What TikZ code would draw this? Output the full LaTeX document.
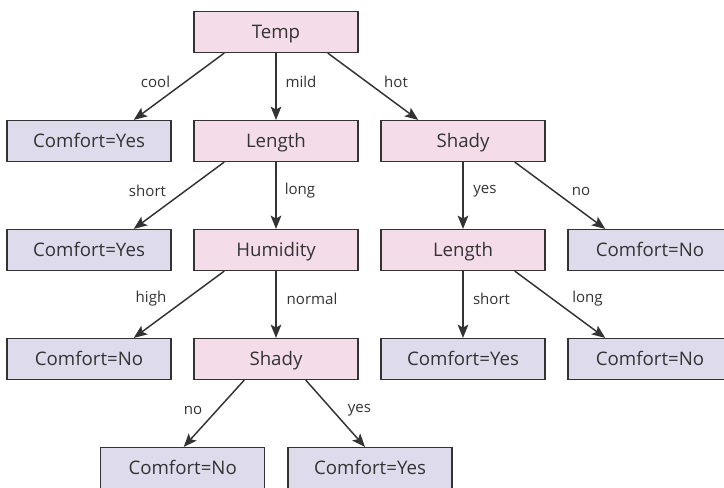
\documentclass[tikz,border=0pt]{standalone}
\usepackage{fontspec}
\setmainfont{Open Sans}
\usetikzlibrary{arrows.meta,calc}
\definecolor{ink}{HTML}{333333}
\definecolor{testfill}{HTML}{F4DDE8}
\definecolor{leaffill}{HTML}{DEDCEC}
\begin{document}
\begin{tikzpicture}[x=0.75pt,y=-0.75pt,
  box/.style={draw=ink,line width=1.1pt,minimum width=123pt,minimum height=30.5pt,
    inner sep=0pt,text height=10pt,text depth=0pt,text=ink,font=\fontsize{14}{16}\selectfont},
  test/.style={box,fill=testfill},
  leaf/.style={box,fill=leaffill},
  edge/.style={draw=ink,line width=1.1pt,-{Stealth[length=10pt,width=8pt,inset=2.2pt]}},
  lbl/.style={text=ink,font=\fontsize{11.3}{13}\selectfont,inner sep=0pt}]
\useasboundingbox (0,0) rectangle (724,487);
\clip (0,0) rectangle (724,487);

% decision and leaf nodes
\node[test] (temp)    at (276,32)  {Temp};
\node[leaf] (coolyes) at (89,141)  {Comfort=Yes};
\node[test] (len1)    at (276,141) {Length};
\node[test] (shady1)  at (463,141) {Shady};
\node[leaf] (shortyes) at (89,250) {Comfort=Yes};
\node[test] (hum)     at (276,250) {Humidity};
\node[test] (len2)    at (463,250) {Length};
\node[leaf] (nono)    at (650,250) {Comfort=No};
\node[leaf] (highno)  at (89,359)  {Comfort=No};
\node[test] (shady2)  at (276,359) {Shady};
\node[leaf] (syes)    at (463,359) {Comfort=Yes};
\node[leaf] (lno)     at (650,359) {Comfort=No};
\node[leaf] (bno)     at (182.7,468) {Comfort=No};
\node[leaf] (byes)    at (370,468) {Comfort=Yes};

% branches
\draw[edge] ($(temp.south west)+(31,0)$) -- ($(coolyes.north east)+(-38,0)$);
\draw[edge] (temp.south) -- (len1.north);
\draw[edge] ($(temp.south east)+(-31,0)$) -- ($(shady1.north west)+(38,0)$);
\draw[edge] ($(len1.south west)+(31,0)$) -- ($(shortyes.north east)+(-38,0)$);
\draw[edge] (len1.south) -- (hum.north);
\draw[edge] (shady1.south) -- (len2.north);
\draw[edge] ($(shady1.south east)+(-31,0)$) -- ($(nono.north west)+(38,0)$);
\draw[edge] ($(hum.south west)+(31,0)$) -- ($(highno.north east)+(-38,0)$);
\draw[edge] (hum.south) -- (shady2.north);
\draw[edge] (len2.south) -- (syes.north);
\draw[edge] ($(len2.south east)+(-31,0)$) -- ($(lno.north west)+(38,0)$);
\draw[edge] ($(shady2.south west)+(51,0)$) -- ($(bno.north)+(1,0)$);
\draw[edge] ($(shady2.south east)+(-53,0)$) -- ($(byes.north)+(-5,0)$);

% branch labels
\node[lbl] (lcool)   at (155.5,82) {cool};
\node[lbl] (lmild)   at (301,82)   {mild};
\node[lbl] (lhot)    at (396,82)   {hot};
\node[lbl] (lshort1) at (147.5,191) {short};
\node[lbl] (llong1)  at (300,191)  {long};
\node[lbl] (lyes1)   at (485,191)  {yes};
\node[lbl] (lno1)    at (581,191)  {no};
\node[lbl] (lhigh)   at (151,299)  {high};
\node[lbl] (lnormal) at (312,299)  {normal};
\node[lbl] (lshort2) at (491.5,299) {short};
\node[lbl] (llong2)  at (587.5,299) {long};
\node[lbl] (lno2)    at (193,410)  {no};
\node[lbl] (lyes2)   at (359.5,410) {yes};
\end{tikzpicture}
\end{document}
